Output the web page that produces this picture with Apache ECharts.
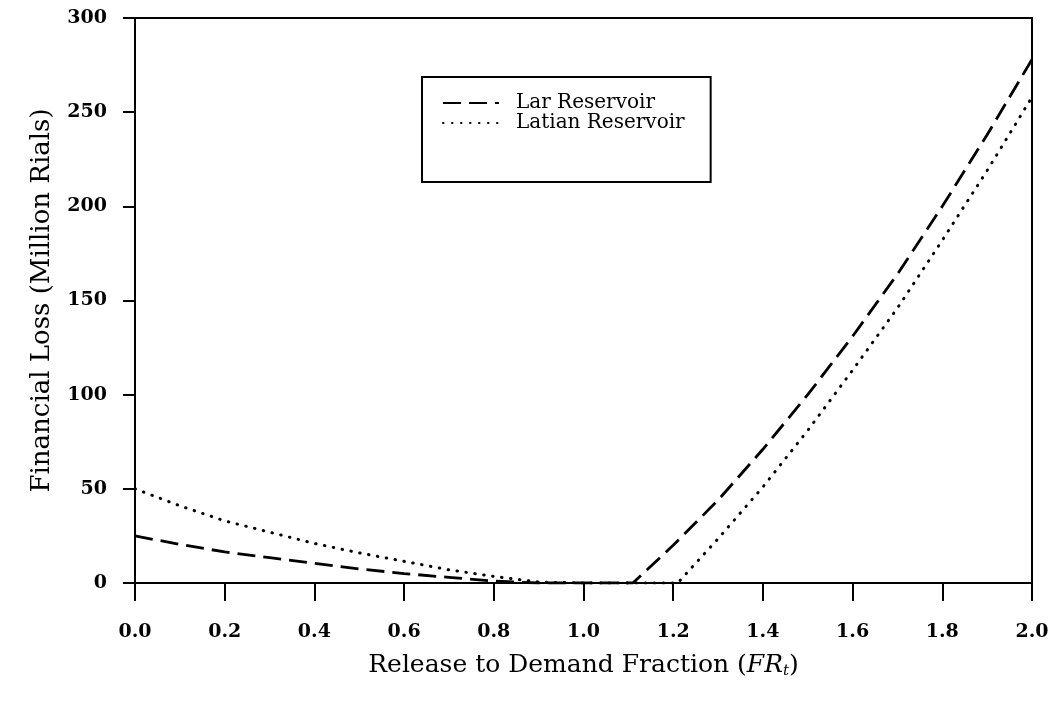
<!DOCTYPE html>
<html>
<head>
<meta charset="utf-8">
<script src="https://cdn.jsdelivr.net/npm/echarts@6/dist/echarts.min.js"></script>
<style>
  html, body { margin: 0; padding: 0; background: #fff; }
  #chart { width: 1055px; height: 706px; }
</style>
</head>
<body>
<div id="chart"></div>
<script>
// values
const larX = [0, 0.1, 0.2, 0.3, 0.4, 0.5, 0.6, 0.7, 0.8, 0.9, 1.0, 1.11, 1.2, 1.3, 1.4, 1.5, 1.6, 1.7, 1.8, 1.9, 2.0];
const larY = [25, 20.5, 16.5, 13.5, 10.5, 7.5, 5, 3, 1, 0, 0, 0, 20, 44, 71, 100, 131, 164, 200, 238, 278];
const latianX = [0, 0.1, 0.2, 0.3, 0.4, 0.5, 0.6, 0.7, 0.8, 0.9, 1.0, 1.1, 1.21, 1.3, 1.4, 1.5, 1.6, 1.7, 1.8, 1.9, 2.0];
const latianY = [50, 41, 33, 27, 21, 16, 11.5, 7, 3.5, 0.5, 0, 0, 0, 23.5, 51, 81, 113, 146, 182, 219, 258];
const seriesNames = ['Lar Reservoir', 'Latian Reservoir'];

const serif = 'DejaVu Serif';

const pairs = (xs, ys) => xs.map((x, i) => [x, ys[i]]);

const chart = echarts.init(document.getElementById('chart'));
chart.setOption({
  backgroundColor: '#fff',
  animation: false,
  grid: {
    left: 135,
    right: 23,
    top: 18,
    bottom: 123,
    show: true,
    borderColor: '#000',
    borderWidth: 2
  },
  legend: {
    left: 422,
    top: 77,
    orient: 'vertical',
    padding: [16, 26, 49, 20],
    itemGap: 0,
    itemWidth: 56,
    itemHeight: 14,
    borderColor: '#000',
    borderWidth: 2,
    itemStyle: { opacity: 0 },
    textStyle: {
      fontFamily: serif,
      fontSize: 20,
      color: '#000',
      lineHeight: 20,
      padding: [0, 0, 0, 12]
    },
    data: seriesNames
  },
  xAxis: {
    type: 'value',
    min: 0,
    max: 2,
    interval: 0.2,
    name: '{n|Release to Demand Fraction (}{i|FR}{s|t}{n|)}',
    nameLocation: 'middle',
    nameGap: 69,
    nameTextStyle: {
      rich: {
        n: { fontFamily: serif, fontSize: 25, color: '#000' },
        i: { fontFamily: serif, fontSize: 25, fontStyle: 'italic', color: '#000' },
        s: { fontFamily: serif, fontSize: 15, fontStyle: 'italic', color: '#000', padding: [12, 0, 0, 0] }
      }
    },
    splitLine: { show: false },
    axisLine: { lineStyle: { color: '#000', width: 2 } },
    axisTick: { inside: false, length: 18, lineStyle: { color: '#000', width: 2 } },
    axisLabel: {
      margin: 40,
      fontFamily: serif,
      fontSize: 19,
      fontWeight: 'bold',
      color: '#000',
      formatter: v => v.toFixed(1)
    }
  },
  yAxis: {
    type: 'value',
    min: 0,
    max: 300,
    interval: 50,
    name: 'Financial Loss (Million Rials)',
    nameLocation: 'middle',
    nameGap: 80,
    nameTextStyle: { fontFamily: serif, fontSize: 26, color: '#000' },
    splitLine: { show: false },
    axisLine: { lineStyle: { color: '#000', width: 2 } },
    axisTick: { inside: false, length: 12, lineStyle: { color: '#000', width: 2 } },
    axisLabel: { margin: 28, fontFamily: serif, fontSize: 19, fontWeight: 'bold', color: '#000' }
  },
  series: [
    {
      name: seriesNames[0],
      type: 'line',
      symbol: 'none',
      data: pairs(larX, larY),
      lineStyle: { color: '#000', width: 2.8, type: [18, 8] },
      itemStyle: { color: '#000' }
    },
    {
      name: seriesNames[1],
      type: 'line',
      symbol: 'none',
      data: pairs(latianX, latianY),
      lineStyle: { color: '#000', width: 3, type: [0.5, 8.5], cap: 'round' },
      itemStyle: { color: '#000' }
    }
  ]
});
</script>
</body>
</html>
